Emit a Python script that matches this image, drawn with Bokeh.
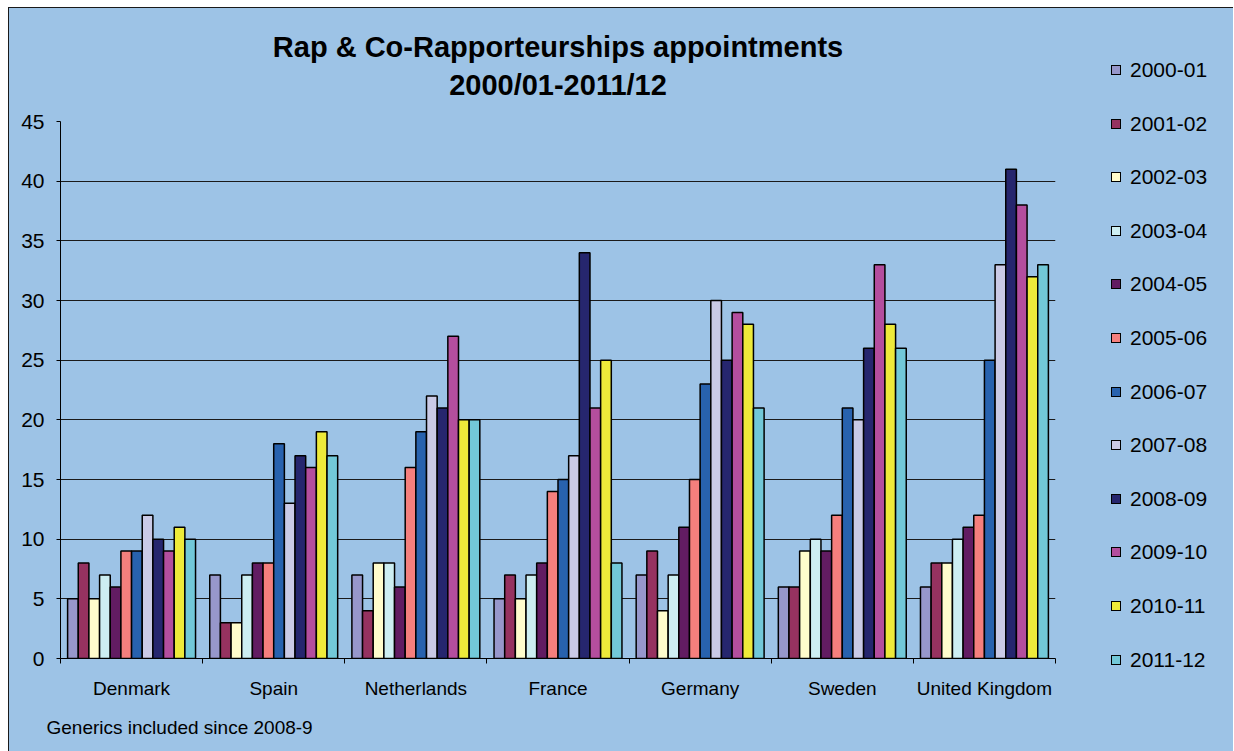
from bokeh.plotting import figure
from bokeh.layouts import row
from bokeh.models import ColumnDataSource, FixedTicker, Title, Range1d, Div
from bokeh.transform import dodge
from bokeh.embed import file_html
from bokeh.resources import INLINE

countries = ["Denmark", "Spain", "Netherlands", "France", "Germany", "Sweden", "United Kingdom"]
years = ["2000-01", "2001-02", "2002-03", "2003-04", "2004-05", "2005-06",
         "2006-07", "2007-08", "2008-09", "2009-10", "2010-11", "2011-12"]

v2000_01 = [5, 7, 7, 5, 7, 6, 6]
v2001_02 = [8, 3, 4, 7, 9, 6, 8]
v2002_03 = [5, 3, 8, 5, 4, 9, 8]
v2003_04 = [7, 7, 8, 7, 7, 10, 10]
v2004_05 = [6, 8, 6, 8, 11, 9, 11]
v2005_06 = [9, 8, 16, 14, 15, 12, 12]
v2006_07 = [9, 18, 19, 15, 23, 21, 25]
v2007_08 = [12, 13, 22, 17, 30, 20, 33]
v2008_09 = [10, 17, 21, 34, 25, 26, 41]
v2009_10 = [9, 16, 27, 21, 29, 33, 38]
v2010_11 = [11, 19, 20, 25, 28, 28, 32]
v2011_12 = [10, 17, 20, 8, 21, 26, 33]

series = [v2000_01, v2001_02, v2002_03, v2003_04, v2004_05, v2005_06,
          v2006_07, v2007_08, v2008_09, v2009_10, v2010_11, v2011_12]
colors = ["#9797CB", "#963260", "#FFFCCC", "#CDEEF2", "#621C62", "#F57F7D",
          "#2862AE", "#CACAE6", "#26266E", "#B44E9E", "#EEEA3A", "#72C8D8"]

y_ticks = [0, 5, 10, 15, 20, 25, 30, 35, 40, 45]
title_lines = ["Rap & Co-Rapporteurships appointments", "2000/01-2011/12"]
footnote = "Generics included since 2008-9"

BG = "#9DC3E6"
FONT = "Liberation Sans"

data = {"x": [i + 0.5 for i in range(len(countries))]}
for y, s in zip(years, series):
    data[y] = s
source = ColumnDataSource(data)

p = figure(width=1091, height=743, output_backend="svg", toolbar_location=None,
           x_range=Range1d(0, len(countries)), y_range=Range1d(0, 45),
           min_border_left=51, min_border_right=45, min_border_top=113, min_border_bottom=93,
           background_fill_color=BG, border_fill_color=BG, outline_line_color=None)

bw = 0.075
for j, (y, c) in enumerate(zip(years, colors)):
    p.vbar(x=dodge("x", (j - 5.5) * bw, range=p.x_range), top=y, width=bw,
           source=source, fill_color=c, line_color="black", line_width=1.5)

# axes
p.xaxis.ticker = FixedTicker(ticks=[i + 0.5 for i in range(len(countries))],
                             minor_ticks=list(range(len(countries) + 1)))
p.xaxis.major_label_overrides = {i + 0.5: c for i, c in enumerate(countries)}
p.xaxis.major_tick_out = 0
p.xaxis.major_tick_in = 0
p.xaxis.minor_tick_out = 5
p.xaxis.minor_tick_in = 0
p.xaxis.minor_tick_line_color = "black"
p.xaxis.axis_line_color = "black"
p.xaxis.major_label_standoff = 14
p.xaxis.major_label_text_font = FONT
p.xaxis.major_label_text_font_size = "19px"
p.xaxis.major_label_text_color = "black"

p.yaxis.ticker = FixedTicker(ticks=y_ticks)
p.yaxis.major_tick_out = 4
p.yaxis.major_tick_in = 0
p.yaxis.minor_tick_line_color = None
p.yaxis.axis_line_color = "black"
p.yaxis.major_label_standoff = 12
p.yaxis.major_label_text_font = FONT
p.yaxis.major_label_text_font_size = "21px"
p.yaxis.major_label_text_color = "black"

p.xgrid.grid_line_color = None
p.ygrid.grid_line_color = "#1a1a1a"
p.ygrid.grid_line_width = 1
p.ygrid.ticker = FixedTicker(ticks=y_ticks)

title = Title(text="\n".join(title_lines), align="center", text_font=FONT,
              text_color="black", text_font_size="29px", text_font_style="bold",
              text_line_height=1.2, standoff=41)
try:
    title.text_align = "center"
except AttributeError:
    pass
p.add_layout(title, "above")
p.add_layout(Title(text=footnote, align="left", text_font=FONT, text_font_style="normal",
                   text_color="black", text_font_size="19px", offset=-14, standoff=27), "below")

# legend panel (HTML, beside the plot)
first_center, pitch = 62, 53.6
entries = []
for i, (y, c) in enumerate(zip(years, colors)):
    top = first_center + pitch * i - 13
    entries.append(
        f'<div style="position:absolute;left:11px;top:{top:.1f}px;height:26px;'
        f'display:flex;align-items:center;white-space:nowrap;">'
        f'<span style="display:inline-block;width:10px;height:10px;'
        f'border:1.5px solid #000;background:{c};margin-right:9px;"></span>'
        f'<span style="font-family:\'{FONT}\';font-size:21px;color:#000;line-height:26px;">{y}</span>'
        f'</div>')
legend_html = ('<div style="position:relative;width:133px;height:743px;">'
               + "".join(entries) + "</div>")
legend_div = Div(text=legend_html, width=133, height=743,
                 styles={"background-color": BG, "margin": "0", "padding": "0"})

layout = row(p, legend_div, spacing=0,
             styles={"margin-left": "8px", "margin-top": "7px", "background-color": BG,
                     "border-left": "1px solid #1a1a1a", "border-top": "1px solid #1a1a1a"})

open("out.html", "w").write(file_html(layout, INLINE))
